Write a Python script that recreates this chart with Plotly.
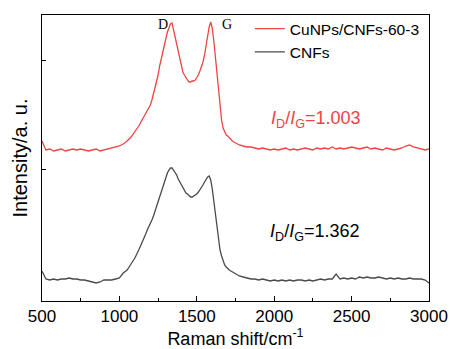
import plotly.graph_objects as go

# Raman shift sampling grid (cm^-1)
shift = list(range(500, 1150, 25)) + list(range(1150, 1750, 10)) + list(range(1750, 3001, 25))

# CuNPs/CNFs-60-3 (offset spectrum, arbitrary units)
cu_a = [160, 151, 152, 150, 151, 152, 150, 151, 152, 151, 152, 151, 150, 151, 152, 150,
        151, 152, 153, 154, 155, 157, 160, 164, 169, 175]
cu_b = [182, 185, 188, 190, 193, 196, 201, 207, 212, 218, 226, 235, 242, 249, 256, 263,
        269, 273, 277, 278, 271, 264, 257, 249, 241, 234, 229, 226, 223, 221, 219, 219,
        220, 220, 221, 223, 226, 230, 234, 239, 246, 256, 266, 274, 279, 273, 260, 243,
        226, 208, 193, 181, 173, 169, 166, 165, 163, 161, 160, 159]
cu_c = [158, 156, 155, 154, 154, 153, 152, 153, 152, 151, 152, 151, 152, 153, 151, 152,
        151, 152, 153, 152, 151, 153, 152, 153, 152, 154, 152, 153, 152, 153, 154, 153,
        152, 153, 154, 152, 153, 152, 151, 153, 152, 151, 152, 153, 155, 156, 154, 153,
        152, 151, 152]
cu_int = cu_a + cu_b + cu_c

# CNFs
cnf_a = [30, 22, 21, 22, 21, 22, 22, 23, 22, 22, 21, 21, 20, 19, 18, 19, 21, 21, 21, 22,
         23, 28, 31, 37, 43, 51]
cnf_b = [59, 63, 67, 71, 74, 77, 81, 85, 90, 94, 99, 103, 109, 114, 119, 124, 128, 131,
         133, 133, 131, 128, 126, 122, 119, 116, 113, 110, 108, 107, 105, 104, 104, 105,
         106, 107, 109, 111, 113, 116, 119, 122, 124, 125, 121, 112, 99, 88, 78, 64, 51,
         45, 40, 36, 34, 32, 31, 30, 29, 28]
cnf_c = [27, 25, 24, 23, 22, 22, 21, 22, 21, 20, 21, 20, 21, 20, 21, 20, 21, 21, 20, 21,
         20, 21, 22, 21, 22, 22, 27, 22, 23, 22, 23, 22, 24, 23, 24, 23, 23, 24, 23, 22,
         23, 22, 23, 22, 22, 23, 22, 22, 22, 21, 18]
cnf_int = cnf_a + cnf_b + cnf_c

series_names = ["CuNPs/CNFs-60-3", "CNFs"]
ratio_labels = ["1.003", "1.362"]
peak_labels = ["D", "G"]
peak_pos = [1282, 1695]
x_ticks = [500, 1000, 1500, 2000, 2500, 3000]

RED = "#EE4444"
GREY = "#4A4A4A"
FONT = "Liberation Sans, Arial, sans-serif"

fig = go.Figure()
fig.add_trace(go.Scatter(x=shift, y=cu_int, mode="lines", name=series_names[0],
                         line=dict(color=RED, width=1.3)))
fig.add_trace(go.Scatter(x=shift, y=cnf_int, mode="lines", name=series_names[1],
                         line=dict(color=GREY, width=1.3)))

fig.add_annotation(x=2270, y=182, xref="x", yref="y", showarrow=False,
                   text="<i>I</i><sub>D</sub>/<i>I</i><sub>G</sub>=" + ratio_labels[0],
                   font=dict(family=FONT, size=18, color=RED))
fig.add_annotation(x=2263, y=69, xref="x", yref="y", showarrow=False,
                   text="<i>I</i><sub>D</sub>/<i>I</i><sub>G</sub>=" + ratio_labels[1],
                   font=dict(family=FONT, size=18, color="black"))
for lab, px in zip(peak_labels, peak_pos):
    fig.add_annotation(x=px, y=277, xref="x", yref="y", showarrow=False, text=lab,
                       font=dict(family="Liberation Serif, Times New Roman, serif",
                                 size=14, color="black"))

fig.update_layout(
    width=450, height=349,
    margin=dict(l=42, r=21, t=15, b=48, autoexpand=False),
    paper_bgcolor="white", plot_bgcolor="white",
    font=dict(family=FONT, color="black"),
    showlegend=True,
    legend=dict(x=0.537, y=1.01, xanchor="left", yanchor="top",
                bgcolor="rgba(0,0,0,0)", font=dict(size=15.5, family=FONT),
                tracegroupgap=0),
)
fig.update_xaxes(
    range=[500, 3000], tickvals=x_ticks, ticks="inside", ticklen=5, tickwidth=1,
    tickcolor="black", showline=True, linecolor="black", linewidth=1, mirror=True,
    showgrid=False, zeroline=False, tickfont=dict(size=17, family=FONT), automargin=False,
    minor=dict(ticks="inside", ticklen=3, dtick=250, tick0=500, tickcolor="black", showgrid=False),
    title=dict(text="Raman shift/cm<sup>-1</sup>", font=dict(size=18, family=FONT), standoff=4),
)
fig.update_yaxes(
    range=[0, 286], tickvals=[132, 241], ticks="inside", ticklen=4, tickcolor="black",
    showticklabels=False, showline=True, linecolor="black", linewidth=1, mirror=True,
    showgrid=False, zeroline=False, automargin=False,
    title=dict(text="Intensity/a. u.", font=dict(size=20, family=FONT), standoff=8),
)

fig.write_html("out.html")
